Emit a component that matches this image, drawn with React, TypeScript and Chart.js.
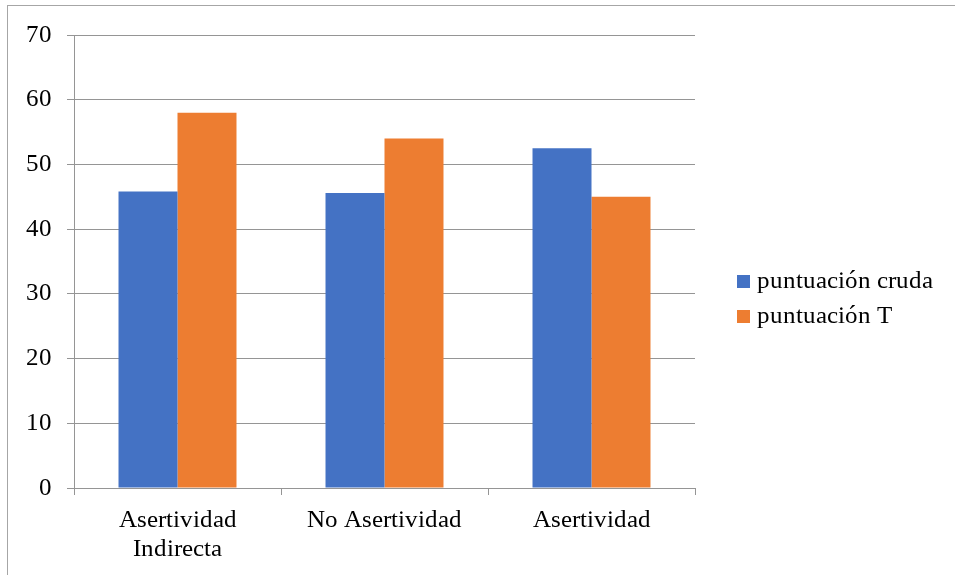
import React, { useEffect, useRef } from "react";
import { Chart, registerables } from "chart.js";

Chart.register(...registerables);

// Categories shown along the x axis (first one wraps onto two lines)
const categories: (string | string[])[] = [["Asertividad", "Indirecta"], "No Asertividad", "Asertividad"];

// Series
const seriesNames = ["puntuación cruda", "puntuación T"];
const seriesColors = ["#4472C4", "#ED7D31"];
const crudaValues = [45.8, 45.6, 52.5];
const tValues = [58, 54, 45];

// Value axis
const yMin = 0;
const yMax = 70;
const yStep = 10;

const GRID = "#959595";
const FONT_SIZE = 25;

// Serif face bound to the locally installed Times-metric font
const FACE_CSS = `
@font-face {
  font-family: "ChartSerif";
  src: local("Liberation Serif"), local("LiberationSerif"), local("Liberation Serif Regular"),
       local("LiberationSerif-Regular"), local("Tinos"), local("Times New Roman");
}
`;
const FONT_FAMILY = '"ChartSerif", "Liberation Serif", "Times New Roman", serif';

export default function App() {
  const canvasRef = useRef<HTMLCanvasElement | null>(null);

  useEffect(() => {
    let chart: Chart | null = null;
    let alive = true;

    const build = () => {
      if (!alive || chart || !canvasRef.current) return;
      chart = new Chart(canvasRef.current, {
        type: "bar",
        data: {
          labels: categories,
          datasets: [
            { label: seriesNames[0], data: crudaValues, backgroundColor: seriesColors[0] },
            { label: seriesNames[1], data: tValues, backgroundColor: seriesColors[1] },
          ],
        },
        options: {
          animation: false,
          responsive: false,
          maintainAspectRatio: false,
          layout: { padding: { left: 0, right: 260, top: 35, bottom: 0 } },
          datasets: { bar: { categoryPercentage: 0.57, barPercentage: 1.0 } },
          plugins: {
            legend: { display: false },
            tooltip: { enabled: false },
          },
          scales: {
            x: {
              grid: {
                offset: true,
                drawOnChartArea: false,
                drawTicks: true,
                tickLength: 7,
                color: GRID,
              },
              border: { color: GRID },
              ticks: {
                color: "#000",
                padding: 11,
                font: { family: FONT_FAMILY, size: FONT_SIZE, lineHeight: 1.15 },
              },
              afterFit: (s: any) => {
                s.height = 87;
              },
            },
            y: {
              min: yMin,
              max: yMax,
              grid: { color: GRID, tickLength: 7 },
              border: { color: GRID },
              ticks: {
                stepSize: yStep,
                color: "#000",
                padding: 15,
                font: { family: FONT_FAMILY, size: FONT_SIZE },
              },
              afterFit: (s: any) => {
                s.width = 74;
              },
            },
          },
        },
      });
    };

    const fonts = (document as any).fonts;
    if (fonts && fonts.load) {
      fonts.load(`${FONT_SIZE}px "ChartSerif"`).then(build, build);
      // never leave the page without a chart
      setTimeout(build, 1500);
    } else {
      build();
    }

    return () => {
      alive = false;
      if (chart) chart.destroy();
    };
  }, []);

  return (
    <div
      style={{
        position: "absolute",
        left: 0,
        top: 0,
        width: 955,
        height: 575,
        background: "#fff",
        fontFamily: FONT_FAMILY,
      }}
    >
      <style>{FACE_CSS}</style>
      <div
        style={{
          position: "absolute",
          left: 7,
          top: 5,
          right: 0,
          bottom: 0,
          borderTop: "1px solid #a6a6a6",
          borderLeft: "1px solid #a6a6a6",
        }}
      />
      <canvas
        ref={canvasRef}
        width={955}
        height={575}
        style={{ position: "absolute", left: 0, top: 0, width: 955, height: 575 }}
      />
      {/* Series legend to the right of the plot */}
      <div style={{ position: "absolute", left: 737, top: 267 }}>
        {seriesNames.map((name, i) => (
          <div
            key={name}
            style={{
              height: 35,
              fontSize: FONT_SIZE,
              lineHeight: "25px",
              color: "#000",
              whiteSpace: "nowrap",
            }}
          >
            <span
              style={{
                display: "inline-block",
                width: 13,
                height: 13,
                marginRight: 7,
                background: seriesColors[i],
                verticalAlign: "baseline",
              }}
            />
            {name}
          </div>
        ))}
      </div>
    </div>
  );
}
